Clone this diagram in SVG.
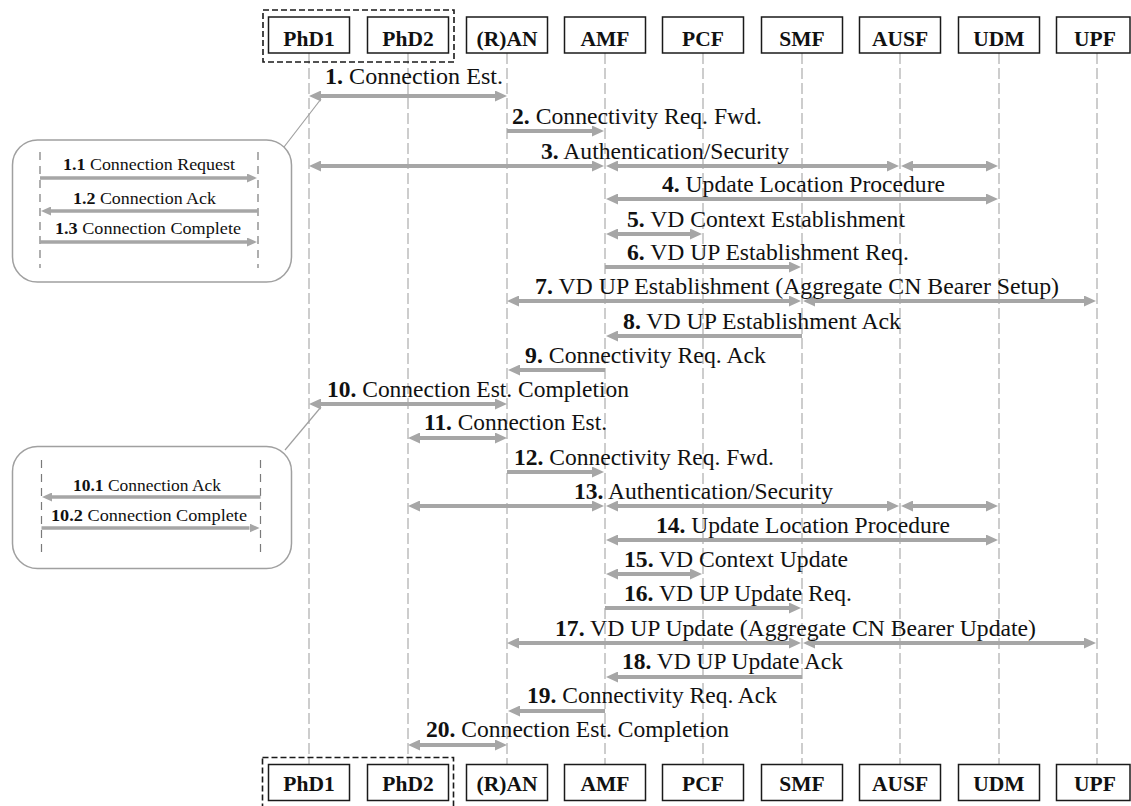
<svg xmlns="http://www.w3.org/2000/svg" width="1131" height="806" viewBox="0 0 1131 806">
<defs>
<style>
.bg{fill:#ffffff}
.box{fill:#ffffff;stroke:#1a1a1a;stroke-width:1.5}
.grp{fill:none;stroke:#1a1a1a;stroke-width:1.6;stroke-dasharray:6,3}
.hd{font-family:"Liberation Serif","Times New Roman",serif;font-size:21.5px;font-weight:bold;fill:#111;text-anchor:middle}
.life{stroke:#bdbdbd;stroke-width:1.5;stroke-dasharray:11,4;fill:none}
.ilife{stroke:#7a7a7a;stroke-width:1.2;stroke-dasharray:8,6;fill:none}
.arr{stroke:#a6a6a6;stroke-width:4;fill:none}
.iarr{stroke:#a6a6a6;stroke-width:3.5;fill:none}
.lbl{font-family:"Liberation Serif","Times New Roman",serif;font-size:23.5px;fill:#111}
.ilbl{font-family:"Liberation Serif","Times New Roman",serif;font-size:17.5px;fill:#111}
.b{font-weight:bold}
.inset{fill:#ffffff;stroke:#a0a0a0;stroke-width:1.5}
.call{stroke:#a0a0a0;stroke-width:1.2;fill:none}
</style>
<marker id="ah" markerUnits="userSpaceOnUse" markerWidth="12" markerHeight="11" refX="0" refY="5.5" orient="auto-start-reverse" viewBox="0 0 12 11">
<path d="M0,0 L12,5.5 L0,11 z" fill="#a6a6a6"/>
</marker>
<marker id="ah2" markerUnits="userSpaceOnUse" markerWidth="10" markerHeight="9" refX="0" refY="4.5" orient="auto-start-reverse" viewBox="0 0 10 9">
<path d="M0,0 L10,4.5 L0,9 z" fill="#a6a6a6"/>
</marker>
</defs>
<rect class="bg" x="0" y="0" width="1131" height="806"/>

<g id="lifelines">
<line class="life" x1="309" y1="53" x2="309" y2="764"/>
<line class="life" x1="408" y1="53" x2="408" y2="764"/>
<line class="life" x1="507" y1="53" x2="507" y2="764"/>
<line class="life" x1="605" y1="53" x2="605" y2="764"/>
<line class="life" x1="703" y1="53" x2="703" y2="764"/>
<line class="life" x1="802" y1="53" x2="802" y2="764"/>
<line class="life" x1="900" y1="53" x2="900" y2="764"/>
<line class="life" x1="999" y1="53" x2="999" y2="764"/>
<line class="life" x1="1097" y1="53" x2="1097" y2="764"/>
</g>

<g id="group-top"><rect class="grp" x="263" y="10" width="191" height="52"/></g>
<g id="group-bottom"><rect class="grp" x="262.5" y="757.5" width="191" height="60"/></g>

<g id="node-PhD1-top"><rect class="box" x="268.5" y="17" width="81" height="36"/><text class="hd" x="309" y="46">PhD1</text></g>
<g id="node-PhD2-top"><rect class="box" x="367.5" y="17" width="81" height="36"/><text class="hd" x="408" y="46">PhD2</text></g>
<g id="node-RAN-top"><rect class="box" x="466.5" y="17" width="81" height="36"/><text class="hd" x="507" y="46">(R)AN</text></g>
<g id="node-AMF-top"><rect class="box" x="564.5" y="17" width="81" height="36"/><text class="hd" x="605" y="46">AMF</text></g>
<g id="node-PCF-top"><rect class="box" x="662.5" y="17" width="81" height="36"/><text class="hd" x="703" y="46">PCF</text></g>
<g id="node-SMF-top"><rect class="box" x="761.5" y="17" width="81" height="36"/><text class="hd" x="802" y="46">SMF</text></g>
<g id="node-AUSF-top"><rect class="box" x="859.5" y="17" width="81" height="36"/><text class="hd" x="900" y="46">AUSF</text></g>
<g id="node-UDM-top"><rect class="box" x="958.5" y="17" width="81" height="36"/><text class="hd" x="999" y="46">UDM</text></g>
<g id="node-UPF-top"><rect class="box" x="1056.5" y="17" width="73.5" height="36"/><text class="hd" x="1095" y="46">UPF</text></g>

<g id="node-PhD1-bottom"><rect class="box" x="268.5" y="764.5" width="81" height="36"/><text class="hd" x="309" y="791">PhD1</text></g>
<g id="node-PhD2-bottom"><rect class="box" x="367.5" y="764.5" width="81" height="36"/><text class="hd" x="408" y="791">PhD2</text></g>
<g id="node-RAN-bottom"><rect class="box" x="466.5" y="764.5" width="81" height="36"/><text class="hd" x="507" y="791">(R)AN</text></g>
<g id="node-AMF-bottom"><rect class="box" x="564.5" y="764.5" width="81" height="36"/><text class="hd" x="605" y="791">AMF</text></g>
<g id="node-PCF-bottom"><rect class="box" x="662.5" y="764.5" width="81" height="36"/><text class="hd" x="703" y="791">PCF</text></g>
<g id="node-SMF-bottom"><rect class="box" x="761.5" y="764.5" width="81" height="36"/><text class="hd" x="802" y="791">SMF</text></g>
<g id="node-AUSF-bottom"><rect class="box" x="859.5" y="764.5" width="81" height="36"/><text class="hd" x="900" y="791">AUSF</text></g>
<g id="node-UDM-bottom"><rect class="box" x="958.5" y="764.5" width="81" height="36"/><text class="hd" x="999" y="791">UDM</text></g>
<g id="node-UPF-bottom"><rect class="box" x="1056.5" y="764.5" width="73.5" height="36"/><text class="hd" x="1095" y="791">UPF</text></g>

<g id="inset-1">
<line class="call" x1="284" y1="147" x2="321" y2="99"/>
<rect class="inset" x="12.5" y="140" width="279" height="142" rx="25"/>
<line class="ilife" x1="40" y1="152" x2="40" y2="268"/>
<line class="ilife" x1="258" y1="152" x2="258" y2="268"/>
<line class="iarr" x1="40" y1="178" x2="247" y2="178" marker-end="url(#ah2)"/>
<line class="iarr" x1="258" y1="211" x2="51" y2="211" marker-end="url(#ah2)"/>
<line class="iarr" x1="40" y1="242" x2="247" y2="242" marker-end="url(#ah2)"/>
<text class="ilbl" x="63" y="169.5" textLength="172" lengthAdjust="spacingAndGlyphs"><tspan class="b">1.1</tspan> Connection Request</text>
<text class="ilbl" x="73" y="203.5" textLength="143" lengthAdjust="spacingAndGlyphs"><tspan class="b">1.2</tspan> Connection Ack</text>
<text class="ilbl" x="55" y="234" textLength="186" lengthAdjust="spacingAndGlyphs"><tspan class="b">1.3</tspan> Connection Complete</text>
</g>

<g id="inset-2">
<line class="call" x1="285" y1="450" x2="321" y2="407"/>
<rect class="inset" x="12.5" y="446.5" width="279" height="122" rx="25"/>
<line class="ilife" x1="41.5" y1="460" x2="41.5" y2="557"/>
<line class="ilife" x1="260.5" y1="460" x2="260.5" y2="557"/>
<line class="iarr" x1="260.5" y1="497" x2="52" y2="497" marker-end="url(#ah2)"/>
<line class="iarr" x1="41.5" y1="528" x2="249.5" y2="528" marker-end="url(#ah2)"/>
<text class="ilbl" x="73" y="490.5" textLength="148" lengthAdjust="spacingAndGlyphs"><tspan class="b">10.1</tspan> Connection Ack</text>
<text class="ilbl" x="51" y="520.5" textLength="196" lengthAdjust="spacingAndGlyphs"><tspan class="b">10.2</tspan> Connection Complete</text>
</g>

<g id="connectors">
<line class="arr" x1="321" y1="96" x2="495" y2="96" marker-start="url(#ah)" marker-end="url(#ah)"/>
<line class="arr" x1="507" y1="131" x2="592" y2="131" marker-end="url(#ah)"/>
<line class="arr" x1="321" y1="166" x2="592" y2="166" marker-start="url(#ah)" marker-end="url(#ah)"/>
<line class="arr" x1="618" y1="166" x2="887" y2="166" marker-start="url(#ah)" marker-end="url(#ah)"/>
<line class="arr" x1="913" y1="166" x2="986" y2="166" marker-start="url(#ah)" marker-end="url(#ah)"/>
<line class="arr" x1="618" y1="199" x2="986" y2="199" marker-start="url(#ah)" marker-end="url(#ah)"/>
<line class="arr" x1="618" y1="234" x2="690" y2="234" marker-start="url(#ah)" marker-end="url(#ah)"/>
<line class="arr" x1="605" y1="267" x2="789" y2="267" marker-end="url(#ah)"/>
<line class="arr" x1="519" y1="301" x2="789" y2="301" marker-start="url(#ah)" marker-end="url(#ah)"/>
<line class="arr" x1="815" y1="301" x2="1084" y2="301" marker-start="url(#ah)" marker-end="url(#ah)"/>
<line class="arr" x1="802" y1="336" x2="618" y2="336" marker-end="url(#ah)"/>
<line class="arr" x1="605" y1="370" x2="520" y2="370" marker-end="url(#ah)"/>
<line class="arr" x1="321" y1="404" x2="495" y2="404" marker-start="url(#ah)" marker-end="url(#ah)"/>
<line class="arr" x1="420" y1="438" x2="495" y2="438" marker-start="url(#ah)" marker-end="url(#ah)"/>
<line class="arr" x1="507" y1="472" x2="592" y2="472" marker-end="url(#ah)"/>
<line class="arr" x1="420" y1="506" x2="592" y2="506" marker-start="url(#ah)" marker-end="url(#ah)"/>
<line class="arr" x1="618" y1="506" x2="887" y2="506" marker-start="url(#ah)" marker-end="url(#ah)"/>
<line class="arr" x1="913" y1="506" x2="986" y2="506" marker-start="url(#ah)" marker-end="url(#ah)"/>
<line class="arr" x1="618" y1="540" x2="986" y2="540" marker-start="url(#ah)" marker-end="url(#ah)"/>
<line class="arr" x1="618" y1="574" x2="690" y2="574" marker-start="url(#ah)" marker-end="url(#ah)"/>
<line class="arr" x1="605" y1="608" x2="789" y2="608" marker-end="url(#ah)"/>
<line class="arr" x1="519" y1="643" x2="789" y2="643" marker-start="url(#ah)" marker-end="url(#ah)"/>
<line class="arr" x1="815" y1="643" x2="1084" y2="643" marker-start="url(#ah)" marker-end="url(#ah)"/>
<line class="arr" x1="802" y1="677" x2="618" y2="677" marker-end="url(#ah)"/>
<line class="arr" x1="605" y1="711" x2="520" y2="711" marker-end="url(#ah)"/>
<line class="arr" x1="420" y1="745" x2="495" y2="745" marker-start="url(#ah)" marker-end="url(#ah)"/>
</g>

<g id="labels">
<text class="lbl" x="325" y="84" textLength="178" lengthAdjust="spacingAndGlyphs"><tspan class="b">1.</tspan> Connection Est.</text>
<text class="lbl" x="512" y="124" textLength="250" lengthAdjust="spacingAndGlyphs"><tspan class="b">2.</tspan> Connectivity Req. Fwd.</text>
<text class="lbl" x="541" y="159" textLength="248" lengthAdjust="spacingAndGlyphs"><tspan class="b">3.</tspan> Authentication/Security</text>
<text class="lbl" x="662" y="192" textLength="283" lengthAdjust="spacingAndGlyphs"><tspan class="b">4.</tspan> Update Location Procedure</text>
<text class="lbl" x="627" y="227" textLength="278" lengthAdjust="spacingAndGlyphs"><tspan class="b">5.</tspan> VD Context Establishment</text>
<text class="lbl" x="627" y="260" textLength="282" lengthAdjust="spacingAndGlyphs"><tspan class="b">6.</tspan> VD UP Establishment Req.</text>
<text class="lbl" x="535" y="294" textLength="524" lengthAdjust="spacingAndGlyphs"><tspan class="b">7.</tspan> VD UP Establishment (Aggregate CN Bearer Setup)</text>
<text class="lbl" x="623" y="329" textLength="278" lengthAdjust="spacingAndGlyphs"><tspan class="b">8.</tspan> VD UP Establishment Ack</text>
<text class="lbl" x="525" y="363" textLength="241" lengthAdjust="spacingAndGlyphs"><tspan class="b">9.</tspan> Connectivity Req. Ack</text>
<text class="lbl" x="327" y="397" textLength="302" lengthAdjust="spacingAndGlyphs"><tspan class="b">10.</tspan> Connection Est. Completion</text>
<text class="lbl" x="424" y="430" textLength="183" lengthAdjust="spacingAndGlyphs"><tspan class="b">11.</tspan> Connection Est.</text>
<text class="lbl" x="514" y="465" textLength="260" lengthAdjust="spacingAndGlyphs"><tspan class="b">12.</tspan> Connectivity Req. Fwd.</text>
<text class="lbl" x="574" y="499" textLength="259" lengthAdjust="spacingAndGlyphs"><tspan class="b">13.</tspan> Authentication/Security</text>
<text class="lbl" x="656" y="533" textLength="294" lengthAdjust="spacingAndGlyphs"><tspan class="b">14.</tspan> Update Location Procedure</text>
<text class="lbl" x="624" y="567" textLength="224" lengthAdjust="spacingAndGlyphs"><tspan class="b">15.</tspan> VD Context Update</text>
<text class="lbl" x="624" y="601" textLength="228" lengthAdjust="spacingAndGlyphs"><tspan class="b">16.</tspan> VD UP Update Req.</text>
<text class="lbl" x="555" y="636" textLength="481" lengthAdjust="spacingAndGlyphs"><tspan class="b">17.</tspan> VD UP Update (Aggregate CN Bearer Update)</text>
<text class="lbl" x="622" y="669" textLength="221" lengthAdjust="spacingAndGlyphs"><tspan class="b">18.</tspan> VD UP Update Ack</text>
<text class="lbl" x="527" y="703" textLength="250" lengthAdjust="spacingAndGlyphs"><tspan class="b">19.</tspan> Connectivity Req. Ack</text>
<text class="lbl" x="426" y="737" textLength="303" lengthAdjust="spacingAndGlyphs"><tspan class="b">20.</tspan> Connection Est. Completion</text>
</g>
</svg>
